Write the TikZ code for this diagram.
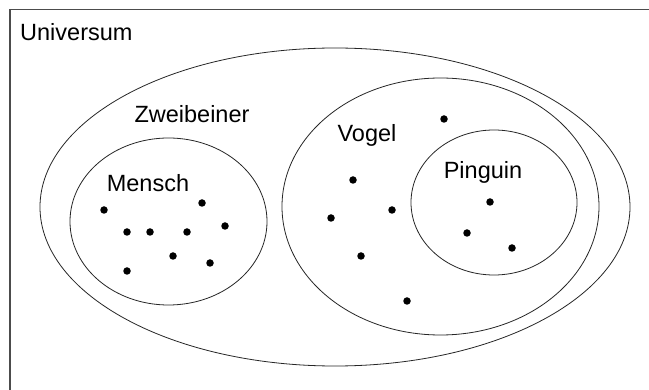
\documentclass[tikz,border=0pt]{standalone}
\usepackage{fontspec}
\setmainfont{Liberation Sans}
\begin{document}
\begin{tikzpicture}[x=1pt,y=-1pt,
  setline/.style={draw=black!85,line width=0.8pt},
  lbl/.style={inner sep=0pt,font=\fontsize{23.5}{28}\selectfont},
  elem/.style={circle,fill=black,inner sep=0pt,minimum size=7.5pt}]
\useasboundingbox (0,0) rectangle (649,390);
\fill[white] (0,0) rectangle (649,390);
\draw[draw=black!70,line width=1.3pt] (10,390) -- (10,9.5) -- (649,9.5);
\node[lbl,anchor=west] (universum) at (20,32) {Universum};
% sets
\draw[setline] (335,207) ellipse [x radius=295, y radius=159];
\draw[setline] (440.5,206.5) ellipse [x radius=158.5, y radius=128.5];
\draw[setline] (494,202.5) ellipse [x radius=83, y radius=72.5];
\draw[setline] (168.5,221.5) ellipse [x radius=98.5, y radius=83.5];
% labels
\node[lbl] (zweibeiner) at (192,114) {Zweibeiner};
\node[lbl] (vogel) at (367,135) {Vogel};
\node[lbl] (pinguin) at (483,172) {Pinguin};
\node[lbl] (mensch) at (148,183) {Mensch};
% Mensch elements
\node[elem] (m1) at (104,210) {};
\node[elem] (m2) at (202,203) {};
\node[elem] (m3) at (225,226) {};
\node[elem] (m4) at (127,232) {};
\node[elem] (m5) at (150,232) {};
\node[elem] (m6) at (187,232) {};
\node[elem] (m7) at (173,256) {};
\node[elem] (m8) at (210,263) {};
\node[elem] (m9) at (127,271) {};
% Vogel elements
\node[elem] (v1) at (444,119) {};
\node[elem] (v2) at (353,180) {};
\node[elem] (v3) at (392,210) {};
\node[elem] (v4) at (331,218) {};
\node[elem] (v5) at (361,256) {};
\node[elem] (v6) at (407,301) {};
% Pinguin elements
\node[elem] (p1) at (490,202) {};
\node[elem] (p2) at (467,233) {};
\node[elem] (p3) at (512,248) {};
\end{tikzpicture}
\end{document}
